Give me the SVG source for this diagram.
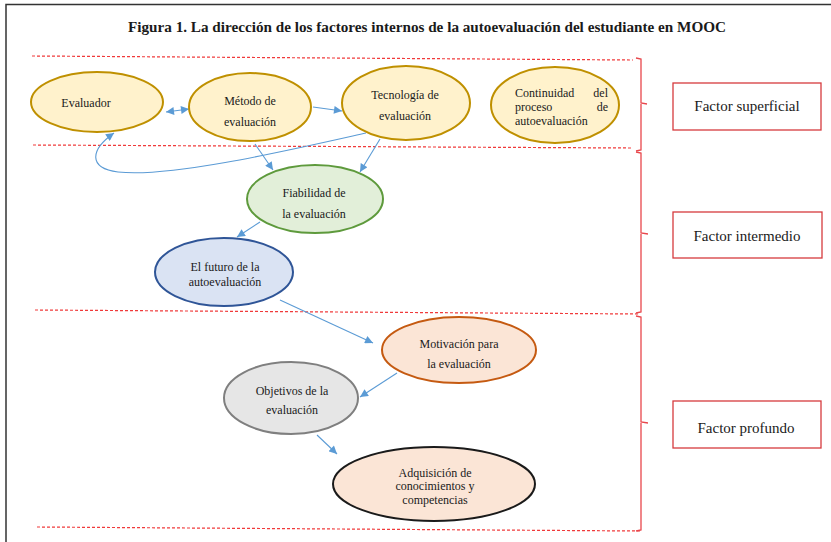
<svg xmlns="http://www.w3.org/2000/svg" width="831" height="542" viewBox="0 0 831 542" font-family="'Liberation Serif','Times New Roman',serif">
<defs>
<style>
.t{font-size:12px;fill:#1a1a1a}
.tc{text-anchor:middle}
.lbl{font-size:15px;fill:#1a1a1a;text-anchor:middle}
.dash{stroke:#f03a3a;stroke-width:1.2;stroke-dasharray:3 2;fill:none}
.br{stroke:#e8474c;stroke-width:1.3;fill:none}
.box{fill:#fff;stroke:#d63b3e;stroke-width:1.3}
.yel{fill:#fff2cc;stroke:#bf9000;stroke-width:2}
.con{stroke:#5b9bd5;stroke-width:1.1;fill:none}
</style>
<marker id="ah" viewBox="0 0 10 10" refX="10" refY="5" markerWidth="9" markerHeight="8" markerUnits="userSpaceOnUse" orient="auto-start-reverse">
<path d="M0,0 L10,5 L0,10 Z" fill="#5b9bd5"/>
</marker>
</defs>
<rect width="831" height="542" fill="#fff"/>
<path d="M6,542 L6,4.5 L831,4.5" stroke="#333" stroke-width="1.5" fill="none"/>
<text x="427" y="32" font-size="14" font-weight="bold" text-anchor="middle" fill="#1a1a1a" textLength="598" lengthAdjust="spacingAndGlyphs">Figura 1. La dirección de los factores internos de la autoevaluación del estudiante en MOOC</text>

<g id="layers">
<path class="dash" d="M32,56 L633,60"/>
<path class="dash" d="M33,145 L632,148"/>
<path class="dash" d="M35,310 L640,314"/>
<path class="dash" d="M37,527 L640,531"/>
<path class="br" d="M636,58 L641,59 L641,103 L647,104 M641,104 L641,150 L636,151"/>
<path class="br" d="M636,152 L641,153 L641,233 L648,234 M641,234 L641,312 L636,313"/>
<path class="br" d="M636,316 L641,317 L641,422 L648,423 M641,423 L641,530 L636,531"/>
</g>

<g id="factor-superficial"><rect class="box" x="673" y="83" width="148" height="47"/><text class="lbl" x="747" y="111">Factor superficial</text></g>
<g id="factor-intermedio"><rect class="box" x="673" y="212" width="149" height="46"/><text class="lbl" x="747" y="241">Factor intermedio</text></g>
<g id="factor-profundo"><rect class="box" x="673" y="401" width="148" height="47"/><text class="lbl" x="746" y="433">Factor profundo</text></g>

<g id="connectors">
<path class="con" d="M166,112 L189,109" marker-start="url(#ah)" marker-end="url(#ah)"/>
<path class="con" d="M313,107 L342,111" marker-end="url(#ah)"/>
<path class="con" d="M366,133 C290,150 170,178 118,172 C88,168 90,150 114,133" marker-end="url(#ah)"/>
<path class="con" d="M255,144 L273,170" marker-end="url(#ah)"/>
<path class="con" d="M380,139 L360,172" marker-end="url(#ah)"/>
<path class="con" d="M260,222 L237,237" marker-end="url(#ah)"/>
<path class="con" d="M280,300 L373,343" marker-end="url(#ah)"/>
<path class="con" d="M397,373 L360,397" marker-end="url(#ah)"/>
<path class="con" d="M317,435 L337,454" marker-end="url(#ah)"/>
</g>

<g id="evaluador"><ellipse class="yel" cx="97" cy="102" rx="66" ry="30"/><text class="t tc" x="86" y="107">Evaluador</text></g>
<g id="metodo"><ellipse class="yel" cx="250" cy="107" rx="61" ry="34"/><text class="t tc" x="250" y="105">Método de</text><text class="t tc" x="250" y="126">evaluación</text></g>
<g id="tecnologia"><ellipse class="yel" cx="406" cy="103" rx="64" ry="37"/><text class="t tc" x="405" y="99">Tecnología de</text><text class="t tc" x="405" y="120">evaluación</text></g>
<g id="continuidad"><ellipse class="yel" cx="555" cy="105" rx="64" ry="38"/>
<text class="t" x="515" y="97">Continuidad</text><text class="t" x="608" y="97" text-anchor="end">del</text>
<text class="t" x="515" y="111">proceso</text><text class="t" x="608" y="111" text-anchor="end">de</text>
<text class="t" x="515" y="125">autoevaluación</text></g>
<g id="fiabilidad"><ellipse cx="315" cy="199" rx="68" ry="34" fill="#e2efd9" stroke="#5e9a3c" stroke-width="2"/><text class="t tc" x="314" y="197">Fiabilidad de</text><text class="t tc" x="314" y="218">la evaluación</text></g>
<g id="futuro"><ellipse cx="224" cy="272" rx="69" ry="34" fill="#dae3f3" stroke="#2f5597" stroke-width="2"/><text class="t tc" x="225" y="271">El futuro de la</text><text class="t tc" x="225" y="286">autoevaluación</text></g>
<g id="motivacion"><ellipse cx="459" cy="350" rx="77" ry="33" fill="#fbe5d6" stroke="#c55a11" stroke-width="2"/><text class="t tc" x="459" y="348">Motivación para</text><text class="t tc" x="459" y="368">la evaluación</text></g>
<g id="objetivos"><ellipse cx="291" cy="398" rx="67" ry="36" fill="#e6e6e6" stroke="#7f7f7f" stroke-width="2"/><text class="t tc" x="292" y="395">Objetivos de la</text><text class="t tc" x="292" y="414">evaluación</text></g>
<g id="adquisicion"><ellipse cx="434" cy="484" rx="101" ry="37" fill="#fbe5d6" stroke="#1a1a1a" stroke-width="2"/><text class="t tc" x="435" y="477">Adquisición de</text><text class="t tc" x="435" y="490">conocimientos y</text><text class="t tc" x="435" y="504">competencias</text></g>
</svg>
